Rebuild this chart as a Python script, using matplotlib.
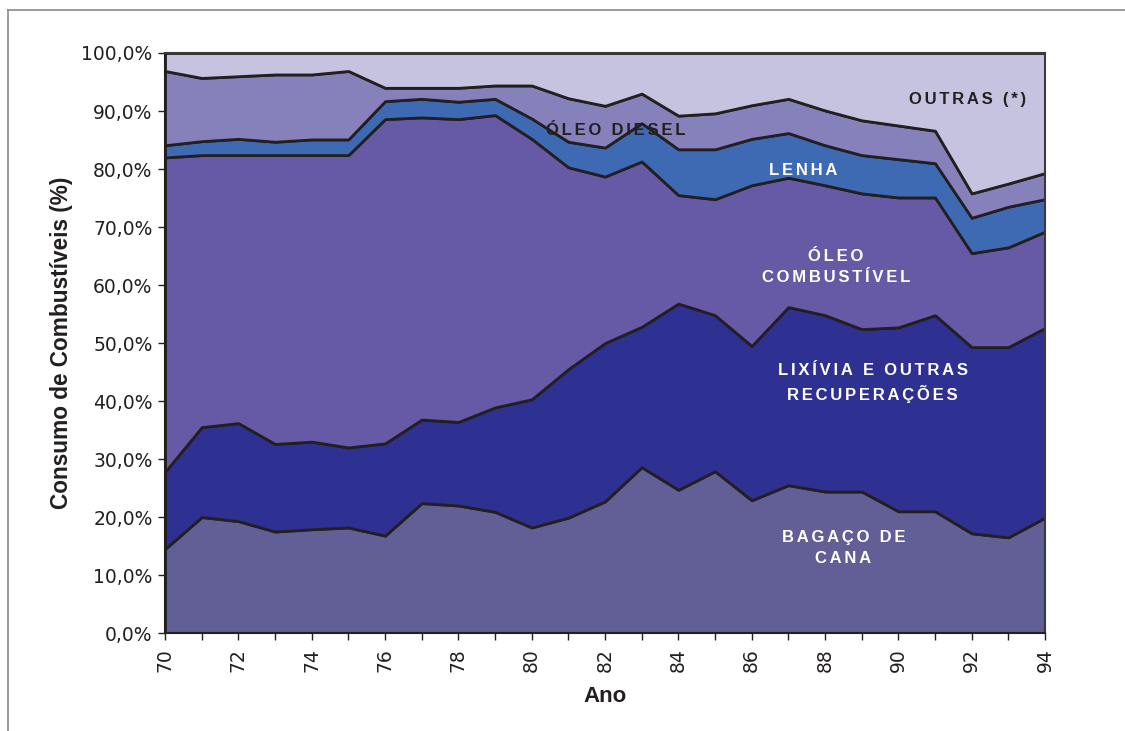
import matplotlib
matplotlib.use("Agg")
import matplotlib.pyplot as plt
from matplotlib.ticker import MultipleLocator, FuncFormatter
from matplotlib.lines import Line2D

years = list(range(70, 95))

bagaco = [14.5, 20.0, 19.3, 17.5, 17.9, 18.2, 16.8, 22.4, 22.0, 20.9, 18.2, 19.9, 22.7,
          28.6, 24.7, 27.9, 22.9, 25.5, 24.4, 24.4, 21.0, 21.0, 17.2, 16.5, 19.9]
lixivia = [13.3, 15.5, 16.9, 15.1, 15.1, 13.8, 15.9, 14.4, 14.4, 18.0, 22.1, 25.6, 27.3,
           24.2, 32.1, 26.9, 26.6, 30.7, 30.4, 28.0, 31.7, 33.8, 32.1, 32.8, 32.7]
oleo_comb = [54.2, 46.9, 46.2, 49.8, 49.4, 50.4, 55.9, 52.1, 52.2, 50.4, 44.9, 34.8, 28.7,
             28.5, 18.7, 20.0, 27.7, 22.3, 22.4, 23.4, 22.4, 20.3, 16.2, 17.2, 16.6]
lenha = [2.1, 2.4, 2.8, 2.3, 2.7, 2.7, 3.1, 3.2, 3.0, 2.8, 3.5, 4.4, 5.0,
         6.6, 7.9, 8.6, 8.0, 7.7, 6.9, 6.6, 6.6, 5.9, 6.1, 7.0, 5.6]
oleo_diesel = [12.8, 10.9, 10.8, 11.6, 11.2, 11.8, 2.3, 1.9, 2.4, 2.3, 5.7, 7.5, 7.2,
               5.1, 5.8, 6.2, 5.8, 5.9, 6.0, 6.0, 5.8, 5.6, 4.2, 4.0, 4.5]
outras = [3.1, 4.3, 4.0, 3.7, 3.7, 3.1, 6.0, 6.0, 6.0, 5.6, 5.6, 7.8, 9.1,
          7.0, 10.8, 10.4, 9.0, 7.9, 9.9, 11.6, 12.5, 13.4, 24.2, 22.5, 20.7]

series = [bagaco, lixivia, oleo_comb, lenha, oleo_diesel, outras]
colors = ["#625E96", "#2E3192", "#6659A6", "#3E6AB4", "#8680BB", "#C6C3E0"]

labels = [
    ("OUTRAS (*)", 91.9, 91.9, "#231F20"),
    ("ÓLEO DIESEL", 82.3, 86.7, "#231F20"),
    ("LENHA", 87.4, 79.8, "white"),
    ("ÓLEO\nCOMBUSTÍVEL", 88.3, 63.1, "white"),
    ("LIXÍVIA E OUTRAS\nRECUPERAÇÕES", 89.3, 43.1, "white"),
    ("BAGAÇO DE\nCANA", 88.5, 14.7, "white"),
]

def spaced(s):
    return "\n".join("\u2006".join(list(line)) for line in s.split("\n"))

fig = plt.figure(figsize=(11.25, 7.31), dpi=100)
ax = fig.add_axes([0.1467, 0.134, 0.9289 - 0.1467, 0.9275 - 0.134])

ax.stackplot(years, *series, colors=colors, edgecolor="#231F20", linewidth=2.0)

ax.set_xlim(70, 94)
ax.set_ylim(0, 100)
ax.yaxis.set_major_locator(MultipleLocator(10))
ax.yaxis.set_major_formatter(FuncFormatter(lambda v, p: f"{v:.1f}%".replace(".", ",")))
ax.xaxis.set_major_locator(MultipleLocator(2))
ax.xaxis.set_minor_locator(MultipleLocator(1))
ax.xaxis.set_major_formatter(FuncFormatter(lambda v, p: f"{int(round(v))}"))

ax.tick_params(axis="x", which="both", direction="out", length=5, width=1, colors="#231F20",
               labelsize=13.5, pad=6)
plt.setp(ax.get_xticklabels(), rotation=90, va="top", ha="center")
ax.tick_params(axis="y", direction="out", length=5, width=1, colors="#231F20", labelsize=13.5, pad=4)

for sp in ax.spines.values():
    sp.set_color("#3a3a3a")
    sp.set_linewidth(1.5)
ax.spines["left"].set_color("#231F20")
ax.spines["bottom"].set_color("#231F20")

for lab in ax.get_xticklabels() + ax.get_yticklabels():
    lab.set_fontfamily("DejaVu Sans")
    lab.set_color("#231F20")

ax.set_ylabel("Consumo de Combustíveis (%)", fontsize=16.3, fontweight="bold",
              family=["Liberation Sans Narrow", "Liberation Sans"], color="#231F20", labelpad=6)
ax.set_xlabel("Ano", fontsize=16, fontweight="bold",
              family=["Liberation Sans Narrow", "Liberation Sans"], color="#231F20", labelpad=10)

for txt, x, y, c in labels:
    ax.text(x, y, spaced(txt), ha="center", va="center", color=c, fontsize=12,
            fontweight="bold", family=["Liberation Sans", "DejaVu Sans"], linespacing=1.5)

# outer frame (top and left lines)
fig.add_artist(Line2D([8 / 1125, 1.0], [1 - 10 / 731, 1 - 10 / 731], transform=fig.transFigure,
                      color="#8a8a8a", linewidth=1.2))
fig.add_artist(Line2D([8 / 1125, 8 / 1125], [0, 1 - 10 / 731], transform=fig.transFigure,
                      color="#8a8a8a", linewidth=1.2))

fig.savefig("out.png", dpi=100)
